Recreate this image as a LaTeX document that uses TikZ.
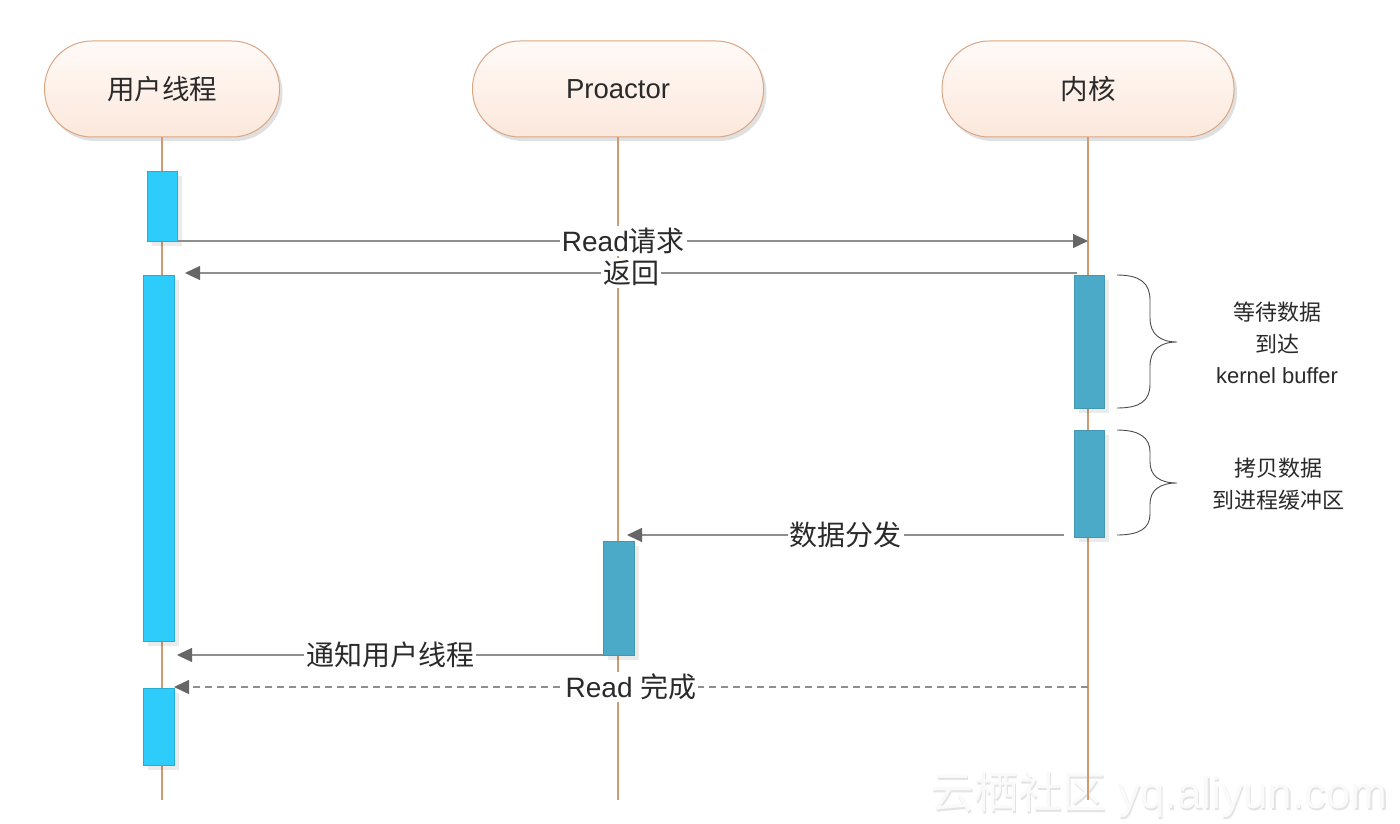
\documentclass[tikz,border=0pt]{standalone}
\usepackage{fontspec}
\setmainfont{Liberation Sans}
\newfontfamily\cjk{Noto Sans CJK SC}
\usetikzlibrary{arrows.meta,shadows,calc}
\definecolor{hdrborder}{HTML}{D9A684}
\definecolor{hdrtop}{HTML}{FFFAF7}
\definecolor{hdrbot}{HTML}{FCE8DC}
\definecolor{life}{HTML}{D29A70}
\definecolor{cyanbar}{HTML}{2ECCFA}
\definecolor{bluebar}{HTML}{4BAAC8}
\definecolor{arr}{HTML}{8E8E8E}
\definecolor{tipc}{HTML}{666666}
\definecolor{txt}{HTML}{2A2A2A}
\tikzset{
  hdr/.style={draw=hdrborder, line width=1pt, top color=hdrtop, bottom color=hdrbot,
    rounded corners=47.5pt, minimum height=96pt, inner sep=0pt,
    font=\fontsize{27.5}{32}\selectfont, text=txt,
    drop shadow={shadow xshift=3pt, shadow yshift=-4pt, opacity=0.12, fill=black}},
  lifeline/.style={draw=life, line width=1.2pt},
  barbase/.style={inner sep=0pt, outer sep=0pt, minimum width=31pt, line width=0.6pt,
    drop shadow={shadow xshift=5pt, shadow yshift=-5pt, opacity=0.08, fill=black}},
  barc/.style={barbase, fill=cyanbar, draw=cyanbar!85!black},
  barb/.style={barbase, fill=bluebar, draw=bluebar!88!black},
  msg/.style={draw=arr, line width=1.3pt, -{Triangle[length=15pt,width=14pt,fill=tipc,color=tipc]}},
  lbl/.style={fill=white, inner sep=2pt, text=txt, font=\fontsize{28}{32}\selectfont},
  note/.style={align=center, text=txt, font=\fontsize{22}{31.5}\selectfont},
  bracestyle/.style={draw=black!70, line width=0.9pt},
  wmstyle/.style={font=\fontsize{44}{50}\selectfont, anchor=west, inner sep=0pt}
}
\begin{document}
\begin{tikzpicture}[x=1pt,y=-1pt]
\fill[white] (0,0) rectangle (1400,824);
\useasboundingbox (0,0) rectangle (1400,824);

% watermark
\node[wmstyle, text=gray!22] (wms) at (931.5,796.5) {{\cjk 云栖社区} yq.aliyun.com};
\node[wmstyle, text=gray!4] (wm) at (930,795) {{\cjk 云栖社区} yq.aliyun.com};

% headers
\node[hdr, minimum width=235pt] (h1) at (162,89) {\cjk 用户线程};
\node[hdr, minimum width=291pt] (h2) at (618,89) {Proactor};
\node[hdr, minimum width=292pt] (h3) at (1088,89) {\cjk 内核};

% lifeline ends
\coordinate (e1) at (162,800);
\coordinate (e2) at (618,800);
\coordinate (e3) at (1088,800);
\draw[lifeline] (h1.south) -- (e1);
\draw[lifeline] (h2.south) -- (e2);
\draw[lifeline] (h3.south) -- (e3);

% activation bars
\node[barc, minimum width=30pt, minimum height=70pt] (u1) at (162,206) {};
\node[barc, minimum height=366pt] (u2) at (158.5,458) {};
\node[barc, minimum height=77pt] (u3) at (158.5,726.5) {};
\node[barb, minimum width=30pt, minimum height=133pt] (k1) at (1089,341.5) {};
\node[barb, minimum width=30pt, minimum height=107pt] (k2) at (1089,483.5) {};
\node[barb, minimum height=114pt] (p1) at (618.5,598) {};

% message endpoints
\coordinate (m1s) at (u1.south east);
\coordinate (m1e) at (1088,241);
\coordinate (m2s) at (1077,273);
\coordinate (m2e) at (185,273);
\coordinate (m3s) at (1064,535);
\coordinate (m3e) at (627,535);
\coordinate (m4s) at (603,655);
\coordinate (m4e) at (177,655);
\coordinate (m5s) at (1088,687);
\coordinate (m5e) at (174,687);

\draw[msg] (m1s) -- node[lbl, pos=0.49] (l1) {Read{\cjk 请求}} (m1e);
\draw[msg] (m2s) -- node[lbl] (l2) {\cjk 返回} (m2e);
\draw[msg] (m3s) -- node[lbl] (l3) {\cjk 数据分发} (m3e);
\draw[msg] (m4s) -- node[lbl] (l4) {\cjk 通知用户线程} (m4e);
\draw[msg, dashed, dash pattern=on 7pt off 5pt] (m5s) -- node[lbl] (l5) {Read {\cjk 完成}} (m5e);

% braces
\draw[bracestyle] (1117,275) .. controls (1140,275) and (1150,283) .. (1150,300)
  -- (1150,318) .. controls (1150,334) and (1160,342) .. (1177,342)
  .. controls (1160,342) and (1150,350) .. (1150,366)
  -- (1150,384) .. controls (1150,401) and (1140,408) .. (1117,408);
\draw[bracestyle] (1117,430) .. controls (1140,430) and (1150,438) .. (1150,452)
  -- (1150,462) .. controls (1150,476) and (1160,483) .. (1177,483)
  .. controls (1160,483) and (1150,490) .. (1150,504)
  -- (1150,514) .. controls (1150,528) and (1140,535) .. (1117,535);

\node[note] (n1) at (1277,343) {{\cjk 等待数据}\\{\cjk 到达}\\kernel buffer};
\node[note] (n2) at (1278,484) {{\cjk 拷贝数据}\\{\cjk 到进程缓冲区}};
\end{tikzpicture}
\end{document}
